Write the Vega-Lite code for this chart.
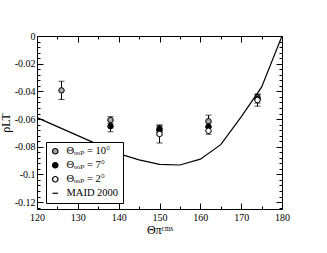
{
  "$schema": "https://vega.github.io/schema/vega-lite/v6.json",
  "width": 245,
  "height": 173,
  "autosize": "none",
  "padding": {"left": 37, "top": 36, "right": 45, "bottom": 44},
  "background": "white",
  "datasets": {
    "pts": [
      {"angle": 126, "series": "Θₒₒₚ = 10°", "value": -0.0393, "err": 0.0066},
      {"angle": 138, "series": "Θₒₒₚ = 10°", "value": -0.0607, "err": 0.0024},
      {"angle": 150, "series": "Θₒₒₚ = 10°", "value": -0.0685, "err": 0.003},
      {"angle": 162, "series": "Θₒₒₚ = 10°", "value": -0.0616, "err": 0.0044},
      {"angle": 174, "series": "Θₒₒₚ = 10°", "value": -0.0445, "err": 0.002},
      {"angle": 138, "series": "Θₒₒₚ =  7°", "value": -0.0652, "err": 0.004},
      {"angle": 150, "series": "Θₒₒₚ =  7°", "value": -0.0672, "err": 0.0027},
      {"angle": 162, "series": "Θₒₒₚ =  7°", "value": -0.0655, "err": 0.003},
      {"angle": 174, "series": "Θₒₒₚ =  7°", "value": -0.0455, "err": 0.003},
      {"angle": 150, "series": "Θₒₒₚ =  2°", "value": -0.0708, "err": 0.0065},
      {"angle": 162, "series": "Θₒₒₚ =  2°", "value": -0.0685, "err": 0.0025},
      {"angle": 174, "series": "Θₒₒₚ =  2°", "value": -0.0463, "err": 0.0044}
    ],
    "maid": [
      {"angle": 120, "value": -0.059},
      {"angle": 125, "value": -0.0655},
      {"angle": 130, "value": -0.072},
      {"angle": 135, "value": -0.0785},
      {"angle": 140, "value": -0.085},
      {"angle": 145, "value": -0.0895},
      {"angle": 150, "value": -0.0928},
      {"angle": 155, "value": -0.0932},
      {"angle": 160, "value": -0.089},
      {"angle": 165, "value": -0.0785},
      {"angle": 170, "value": -0.0585},
      {"angle": 175, "value": -0.037},
      {"angle": 180, "value": 0}
    ]
  },
  "config": {
    "view": {"stroke": null},
    "font": "Liberation Serif, Times New Roman, DejaVu Serif, serif",
    "axis": {
      "labelFont": "Liberation Serif, Times New Roman, DejaVu Serif, serif",
      "titleFont": "Liberation Serif, Times New Roman, DejaVu Serif, serif",
      "labelFontSize": 10,
      "titleFontSize": 12,
      "titleFontWeight": "normal",
      "domainColor": "black",
      "tickColor": "black",
      "labelColor": "black",
      "titleColor": "black",
      "labelFlush": false,
      "grid": false
    },
    "legend": {
      "labelFont": "Liberation Serif, Times New Roman, DejaVu Serif, serif",
      "labelFontSize": 10,
      "labelColor": "black"
    }
  },
  "resolve": {"axis": {"x": "independent", "y": "independent"}},
  "layer": [
    {
      "data": {"name": "maid"},
      "mark": {"type": "line", "color": "black", "strokeWidth": 1.2},
      "encoding": {
        "x": {"field": "angle", "type": "quantitative", "scale": {"domain": [120, 180], "nice": false},
          "axis": {"orient": "bottom", "values": [120, 130, 140, 150, 160, 170, 180], "ticks": false, "labelPadding": 3, "labelFlush": false, "title": "Θπᶜᵐˢ", "titlePadding": 2, "domain": true}},
        "y": {"field": "value", "type": "quantitative", "scale": {"domain": [-0.125, 0], "nice": false, "zero": false},
          "axis": {"orient": "left", "values": [0, -0.02, -0.04, -0.06, -0.08, -0.1, -0.12], "ticks": false, "labelPadding": 2, "labelFlush": false, "labelExpr": "datum.value == 0 ? '0' : '-' + format(-datum.value, '~g')", "title": "ρLT", "titlePadding": 2, "domain": true}}
      }
    },
    {
      "data": {"name": "pts"},
      "mark": {"type": "errorbar", "color": "black", "ticks": {"size": 6, "color": "black"}},
      "encoding": {
        "x": {"field": "angle", "type": "quantitative", "scale": {"domain": [120, 180], "nice": false}, "axis": null},
        "y": {"field": "value", "type": "quantitative", "scale": {"domain": [-0.125, 0], "nice": false, "zero": false}, "axis": null},
        "yError": {"field": "err"}
      }
    },
    {
      "data": {"name": "pts"},
      "mark": {"type": "point", "filled": true, "stroke": "black", "strokeWidth": 1, "opacity": 1},
      "encoding": {
        "x": {"field": "angle", "type": "quantitative", "scale": {"domain": [120, 180], "nice": false},
          "axis": {"orient": "bottom", "values": [120, 130, 140, 150, 160, 170, 180], "tickSize": -6, "labels": false, "domain": false, "title": null}},
        "y": {"field": "value", "type": "quantitative", "scale": {"domain": [-0.125, 0], "nice": false, "zero": false},
          "axis": {"orient": "left", "values": [0, -0.02, -0.04, -0.06, -0.08, -0.1, -0.12], "tickSize": -6, "labels": false, "domain": false, "title": null}},
        "fill": {"field": "series", "type": "nominal",
          "scale": {"domain": ["Θₒₒₚ = 10°", "Θₒₒₚ =  7°", "Θₒₒₚ =  2°", "MAID 2000"], "range": ["#a8a8a8", "black", "white", "black"]},
          "legend": {"title": null, "orient": "none", "legendX": 9, "legendY": 106, "strokeColor": "black", "fillColor": "white", "padding": 4, "rowPadding": 3, "symbolStrokeColor": "black", "symbolStrokeWidth": 1.2, "labelOffset": 6, "labelFontSize": 10.5}},
        "shape": {"field": "series", "type": "nominal",
          "scale": {"domain": ["Θₒₒₚ = 10°", "Θₒₒₚ =  7°", "Θₒₒₚ =  2°", "MAID 2000"], "range": ["circle", "circle", "circle", "stroke"]}},
        "size": {"field": "series", "type": "nominal",
          "scale": {"domain": ["Θₒₒₚ = 10°", "Θₒₒₚ =  7°", "Θₒₒₚ =  2°", "MAID 2000"], "range": [30, 30, 30, 130]}},
        "order": {"field": "series", "sort": "descending"}
      }
    },
    {
      "data": {"name": "maid"},
      "mark": {"type": "point", "opacity": 0},
      "encoding": {
        "x": {"field": "angle", "type": "quantitative", "scale": {"domain": [120, 180], "nice": false},
          "axis": {"orient": "bottom", "values": [125, 135, 145, 155, 165, 175], "tickSize": -3, "labels": false, "domain": false, "title": null}},
        "y": {"field": "value", "type": "quantitative", "scale": {"domain": [-0.125, 0], "nice": false, "zero": false},
          "axis": {"orient": "left", "values": [-0.004, -0.008, -0.012, -0.016, -0.024, -0.028, -0.032, -0.036, -0.044, -0.048, -0.052, -0.056, -0.064, -0.068, -0.072, -0.076, -0.084, -0.088, -0.092, -0.096, -0.104, -0.108, -0.112, -0.116, -0.124], "tickSize": -3, "labels": false, "domain": false, "title": null}}
      }
    },
    {
      "data": {"name": "maid"},
      "mark": {"type": "point", "opacity": 0},
      "encoding": {
        "x": {"field": "angle", "type": "quantitative", "scale": {"domain": [120, 180], "nice": false},
          "axis": {"orient": "top", "values": [120, 130, 140, 150, 160, 170, 180], "tickSize": -6, "labels": false, "domain": true, "title": null}},
        "y": {"field": "value", "type": "quantitative", "scale": {"domain": [-0.125, 0], "nice": false, "zero": false},
          "axis": {"orient": "right", "values": [0, -0.02, -0.04, -0.06, -0.08, -0.1, -0.12], "tickSize": -6, "labels": false, "domain": true, "title": null}}
      }
    },
    {
      "data": {"name": "maid"},
      "mark": {"type": "point", "opacity": 0},
      "encoding": {
        "x": {"field": "angle", "type": "quantitative", "scale": {"domain": [120, 180], "nice": false},
          "axis": {"orient": "top", "values": [125, 135, 145, 155, 165, 175], "tickSize": -3, "labels": false, "domain": false, "title": null}},
        "y": {"field": "value", "type": "quantitative", "scale": {"domain": [-0.125, 0], "nice": false, "zero": false},
          "axis": {"orient": "right", "values": [-0.004, -0.008, -0.012, -0.016, -0.024, -0.028, -0.032, -0.036, -0.044, -0.048, -0.052, -0.056, -0.064, -0.068, -0.072, -0.076, -0.084, -0.088, -0.092, -0.096, -0.104, -0.108, -0.112, -0.116, -0.124], "tickSize": -3, "labels": false, "domain": false, "title": null}}
      }
    }
  ]
}
